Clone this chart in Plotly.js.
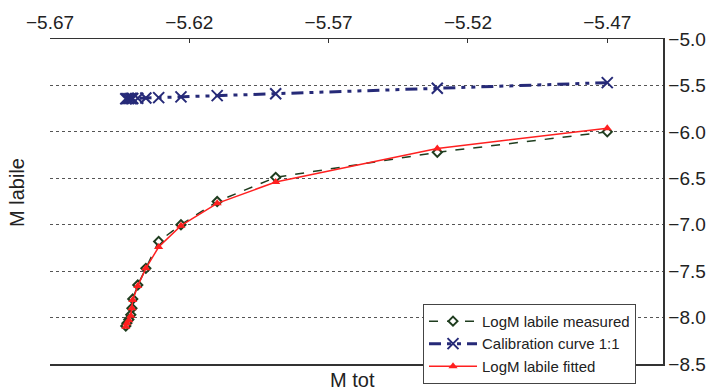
<!DOCTYPE html>
<html>
<head>
<meta charset="utf-8">
<script src="https://cdn.plot.ly/plotly-3.0.1.min.js"></script>
<style>html,body{margin:0;padding:0;background:#fff;}#chart{width:712px;height:390px;}</style>
</head>
<body>
<div id="chart"></div>
<script>
// Shared x values (M tot)
const mTot = [-5.4700, -5.5310, -5.5890, -5.6100, -5.6230, -5.6310, -5.6356, -5.6385, -5.6403, -5.6406, -5.6410, -5.6417, -5.6424, -5.6428];
// Series values (M labile)
const labileMeasured = [-6.00, -6.22, -6.49, -6.75, -7.00, -7.18, -7.47, -7.65, -7.80, -7.90, -7.97, -8.02, -8.06, -8.09];
const calibration = [-5.4700, -5.5310, -5.5890, -5.6100, -5.6230, -5.6310, -5.6356, -5.6385, -5.6403, -5.6406, -5.6410, -5.6417, -5.6424, -5.6428];
const labileFitted = [-5.96, -6.18, -6.54, -6.77, -7.01, -7.24, -7.47, -7.66, -7.81, -7.90, -7.98, -8.03, -8.06, -8.10];
const seriesNames = ["LogM labile measured", "Calibration curve 1:1", "LogM labile fitted"];
const xTickVals = [-5.67, -5.62, -5.57, -5.52, -5.47];
const yTickVals = [-5.0, -5.5, -6.0, -6.5, -7.0, -7.5, -8.0, -8.5];
const xTitle = "M tot";
const yTitle = "M labile";

const FONT = "Liberation Sans, Arial, sans-serif";

const traces = [
  {
    x: mTot, y: labileMeasured, name: seriesNames[0], type: "scatter", mode: "lines+markers",
    line: {color: "#1f3d1f", width: 1.5, dash: "dash"},
    marker: {symbol: "diamond", size: 7, color: "#ffffff", line: {color: "#1f3d1f", width: 2}}
  },
  {
    x: mTot, y: calibration, name: seriesNames[1], type: "scatter", mode: "lines+markers",
    line: {color: "#262a78", width: 3, dash: "12px,6px,4px,6px,4px,6px"},
    marker: {symbol: "x-thin", size: 11, color: "#262a78", line: {color: "#262a78", width: 2}}
  },
  {
    x: mTot, y: labileFitted, name: seriesNames[2], type: "scatter", mode: "lines+markers",
    line: {color: "#ff2020", width: 1.5},
    marker: {symbol: "triangle-up", size: 8, color: "#ff2020"}
  }
];

const layout = {
  width: 712, height: 390,
  margin: {l: 50, r: 49, t: 39, b: 26, pad: 0, autoexpand: false},
  paper_bgcolor: "#ffffff", plot_bgcolor: "#ffffff",
  font: {family: FONT, size: 19, color: "#222222"},
  showlegend: true,
  legend: {
    x: 0.6085, y: 0.185, xanchor: "left", yanchor: "top",
    bgcolor: "#ffffff", bordercolor: "#444444", borderwidth: 1,
    font: {family: FONT, size: 15, color: "#222222"},
    tracegroupgap: 0, itemwidth: 48
  },
  xaxis: {
    side: "top", range: [-5.67, -5.45], autorange: false,
    tickvals: xTickVals, tickformat: ".2f",
    showline: true, linecolor: "#333333", linewidth: 1.5, mirror: true,
    ticks: "inside", ticklen: 4, tickcolor: "#333333", tickwidth: 1,
    showgrid: false, zeroline: false, ticklabelstandoff: 1,
    tickfont: {family: FONT, size: 19, color: "#222222"}
  },
  yaxis: {
    side: "right", range: [-8.5, -5.0], autorange: false,
    tickvals: yTickVals, tickformat: ".1f",
    showline: true, linecolor: "#333333", linewidth: 1.5,
    ticks: "", showgrid: true, gridcolor: "#555555", gridwidth: 1.2, griddash: "dot",
    zeroline: false, ticklabelstandoff: 0,
    tickfont: {family: FONT, size: 19, color: "#222222"}
  },
  annotations: [
    {text: yTitle, xref: "paper", yref: "paper", x: -0.054, y: 0.529, textangle: -90,
     showarrow: false, xanchor: "center", yanchor: "middle", font: {family: FONT, size: 20, color: "#222222"}},
    {text: xTitle, xref: "paper", yref: "paper", x: 0.4927, y: -0.049,
     showarrow: false, xanchor: "center", yanchor: "middle", font: {family: FONT, size: 20, color: "#222222"}}
  ]
};

Plotly.newPlot("chart", traces, layout, {displayModeBar: false, staticPlot: true});
</script>
</body>
</html>
